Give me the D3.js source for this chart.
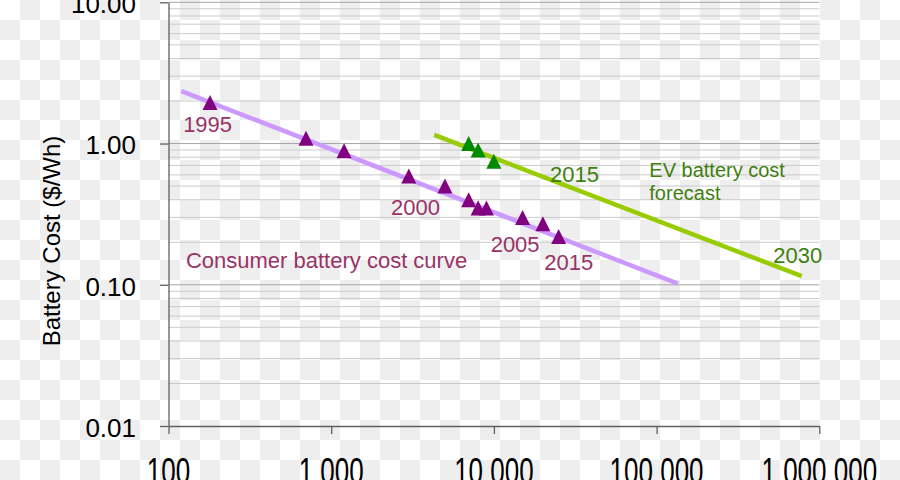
<!DOCTYPE html>
<html>
<head>
<meta charset="utf-8">
<script src="https://cdn.jsdelivr.net/npm/d3@7/dist/d3.min.js"></script>
<style>
  html, body { margin: 0; padding: 0; background: #fff; }
  svg { display: block; font-family: "Liberation Sans", Arial, sans-serif; }
</style>
</head>
<body>
<svg id="chart" width="900" height="480"></svg>
<script>
// ---------- data ----------
const xTicks = [100, 1000, 10000, 100000, 1000000];
const xTickLabels = ["100", "1 000", "10 000", "100 000", "1 000 000"];
const yTicks = [0.01, 0.1, 1, 10];
const yTickLabels = ["0.01", "0.10", "1.00", "10.00"];

const consumerX = [180, 700, 1200, 3000, 5000, 7000, 8000, 9000, 15000, 20000, 25000];
const consumerY = [1.95, 1.09, 0.89, 0.59, 0.50, 0.40, 0.35, 0.35, 0.30, 0.27, 0.22];

const evX = [7000, 8000, 10000];
const evY = [1.00, 0.90, 0.75];

const consumerTrendX = [120, 135000];
const consumerTrendY = [2.35, 0.102];
const evTrendX = [4300, 780000];
const evTrendY = [1.15, 0.115];

const consumerLabels = ["1995", "2000", "2005", "2015", "Consumer battery cost curve"];
const consumerLabelX = [123, 2330, 9550, 20400, 128];
const consumerLabelY = [1.206, 0.3115, 0.1713, 0.1271, 0.1313];

const evLabels = ["2015", "EV battery cost", "forecast", "2030"];
const evLabelX = [22100, 90200, 90200, 521000];
const evLabelY = [0.536, 0.576, 0.396, 0.1432];

const yTitle = "Battery Cost ($/Wh)";

// ---------- setup ----------
const svg = d3.select("#chart");
const W = 900, H = 480;

// transparent-style checkerboard background
const defs = svg.append("defs");
const pat = defs.append("pattern").attr("id", "checker")
  .attr("width", 40).attr("height", 40).attr("patternUnits", "userSpaceOnUse");
pat.append("rect").attr("width", 40).attr("height", 40).attr("fill", "#ffffff");
pat.append("rect").attr("x", 20).attr("y", 0).attr("width", 20).attr("height", 20).attr("fill", "#eeeeee");
pat.append("rect").attr("x", 0).attr("y", 20).attr("width", 20).attr("height", 20).attr("fill", "#eeeeee");
svg.append("rect").attr("width", W).attr("height", H).attr("fill", "url(#checker)");

const x = d3.scaleLog().domain([100, 1000000]).range([168.5, 819.3]);
const y = d3.scaleLog().domain([0.01, 10]).range([426, 2.3]);

// ---------- gridlines ----------
const gridVals = [];
[0.01, 0.1, 1].forEach(dec => {
  for (let m = 1; m <= 9; m++) gridVals.push(+(m * dec).toPrecision(3));
});
gridVals.push(10);
const isMajor = v => Math.abs(Math.log10(v) - Math.round(Math.log10(v))) < 1e-9;

svg.append("g").selectAll("line")
  .data(gridVals.filter(v => v > 0.01))
  .join("line")
  .attr("x1", x.range()[0]).attr("x2", x.range()[1])
  .attr("y1", d => y(d)).attr("y2", d => y(d))
  .attr("stroke", d => isMajor(d) ? "#a6a6a6" : "#cbcbcb")
  .attr("stroke-width", 1);

// ---------- axes ----------
const yAxis = d3.axisLeft(y).tickValues(yTicks)
  .tickFormat((d, i) => yTickLabels[i])
  .tickSize(8.5).tickSizeOuter(0).tickPadding(24);
const gy = svg.append("g").attr("transform", `translate(${x.range()[0]},0)`).call(yAxis);
gy.selectAll("path, line").attr("stroke", "#606060").attr("stroke-width", 1.3);
gy.selectAll("text").attr("font-size", 26).attr("fill", "#000")
  .attr("dy", "0.4em").attr("font-family", "Liberation Sans, Arial, sans-serif");

const xAxis = d3.axisBottom(x).tickValues(xTicks).tickFormat("")
  .tickSize(8).tickSizeOuter(0);
const gx = svg.append("g").attr("transform", `translate(0,${y.range()[0]})`).call(xAxis);
gx.selectAll("path, line").attr("stroke", "#606060").attr("stroke-width", 1.3);
gx.selectAll("text").remove();

svg.append("g").selectAll("g")
  .data(xTicks)
  .join("g")
  .attr("transform", d => `translate(${x(d)},457) scale(1,1.45)`)
  .append("text")
  .attr("text-anchor", "middle")
  .attr("y", 18.6)
  .attr("font-size", 26)
  .attr("fill", "#000")
  .text((d, i) => xTickLabels[i]);

// y title
svg.append("text")
  .attr("transform", "translate(60,241) rotate(-90)")
  .attr("text-anchor", "middle")
  .attr("font-size", 24)
  .attr("fill", "#000")
  .text(yTitle);

// ---------- trend lines ----------
const line = d3.line().x(d => x(d[0])).y(d => y(d[1]));
svg.append("path")
  .datum(d3.zip(consumerTrendX, consumerTrendY))
  .attr("d", line)
  .attr("fill", "none").attr("stroke", "#cc99ff").attr("stroke-width", 4.5);
svg.append("path")
  .datum(d3.zip(evTrendX, evTrendY))
  .attr("d", line)
  .attr("fill", "none").attr("stroke", "#99cc00").attr("stroke-width", 4.5);

// ---------- markers ----------
const tri = {
  draw(ctx, size) {
    const s = Math.sqrt(size) / 2;
    ctx.moveTo(0, -s);
    ctx.lineTo(s, s);
    ctx.lineTo(-s, s);
    ctx.closePath();
  }
};
const sym = d3.symbol().type(tri).size(225);

svg.append("g").selectAll("path")
  .data(d3.zip(consumerX, consumerY))
  .join("path")
  .attr("transform", d => `translate(${x(d[0])},${y(d[1])})`)
  .attr("d", sym)
  .attr("fill", "#800080");

svg.append("g").selectAll("path")
  .data(d3.zip(evX, evY))
  .join("path")
  .attr("transform", d => `translate(${x(d[0])},${y(d[1])})`)
  .attr("d", sym)
  .attr("fill", "#008a00");

// ---------- labels ----------
svg.append("g").selectAll("text")
  .data(consumerLabels)
  .join("text")
  .attr("x", (d, i) => x(consumerLabelX[i]))
  .attr("y", (d, i) => y(consumerLabelY[i]))
  .attr("font-size", 22)
  .attr("fill", "#993366")
  .text(d => d);

svg.append("g").selectAll("text")
  .data(evLabels)
  .join("text")
  .attr("x", (d, i) => x(evLabelX[i]))
  .attr("y", (d, i) => y(evLabelY[i]))
  .attr("font-size", (d, i) => (i === 1 || i === 2) ? 20 : 22)
  .attr("fill", "#3f7f0f")
  .text(d => d);
</script>
</body>
</html>
